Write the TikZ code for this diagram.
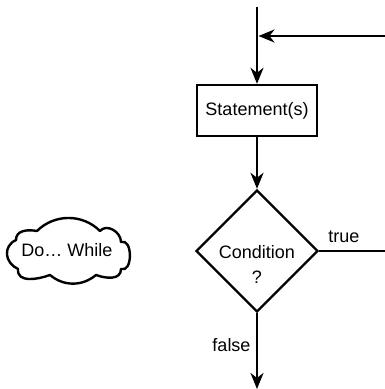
\documentclass[tikz,border=0pt]{standalone}
\usepackage{fontspec}
\setmainfont{Liberation Sans}
\usetikzlibrary{arrows.meta,shapes.geometric}
\begin{document}
\begin{tikzpicture}[x=1bp,y=1bp,
  line/.style={line width=2.4bp},
  arr/.style={line, -{Stealth[length=16bp,width=13bp,inset=5bp]}},
  txt/.style={font=\fontsize{18bp}{22bp}\selectfont, inner sep=0pt},
  ]
\useasboundingbox (0,0) rectangle (385,389);
% coordinates
\coordinate (top) at (257,382);
\coordinate (entry) at (385,353);
\coordinate (join) at (257,353);
\coordinate (joinedge) at (258.5,353);
\coordinate (exit) at (385,138);
\coordinate (out) at (257,0);
% nodes
\node[draw, line, minimum width=120bp, minimum height=51bp, txt] (stmt) at (257,278.5) {Statement(s)};
\node[draw, line, diamond, aspect=1, minimum width=122bp, minimum height=122bp, inner sep=0pt] (cond) at (257,138) {};
\node[txt] (condtxt) at (257,137) {Condition};
\node[txt] (condq) at (257,112) {?};
\node[txt] (truelbl) at (344,152) {true};
\node[txt] (falselbl) at (231.5,44) {false};
% connectors
\draw[line] (top) -- (join);
\draw[arr] (entry) -- (joinedge);
\draw[arr] (join) -- (stmt.north);
\draw[arr] (stmt.south) -- (cond.north);
\draw[line] (cond.east) -- (exit);
\draw[arr] (cond.south) -- (out);
% cloud
\coordinate (v1) at (16,149);
\coordinate (v2) at (37,158);
\coordinate (v3) at (100,158);
\coordinate (v4) at (121,147);
\coordinate (v5) at (121,120);
\coordinate (v6) at (96,114);
\coordinate (v7) at (50,114);
\coordinate (v8) at (18,120);
\draw[line, line join=round] (v8) to[out=155,in=205,looseness=1.3] (v1)
  to[out=90,in=170,looseness=1.1] (v2) to[out=45,in=135] (v3) to[out=50,in=90,looseness=1.1] (v4)
  to[out=20,in=-20,looseness=1.2] (v5) to[out=-90,in=-20,looseness=1.1] (v6) to[out=-140,in=-40] (v7)
  to[out=-160,in=-95,looseness=1.1] (v8) -- cycle;
\node[txt] (dowhile) at (67,139) {Do… While};
\end{tikzpicture}
\end{document}
